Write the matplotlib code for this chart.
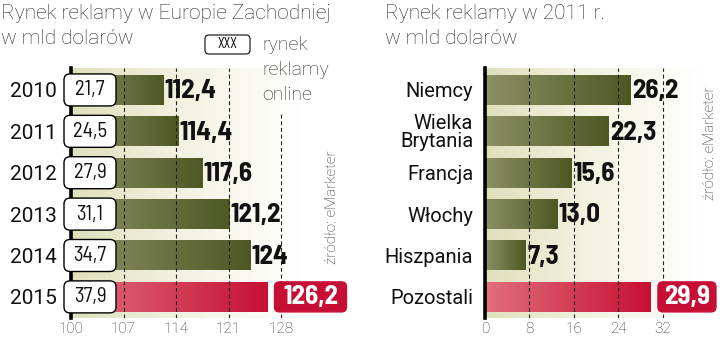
import matplotlib
matplotlib.use("Agg")
import matplotlib.pyplot as plt
import numpy as np
from matplotlib.patches import FancyBboxPatch
from matplotlib.colors import LinearSegmentedColormap

# ---------------- data ----------------
years = ["2010", "2011", "2012", "2013", "2014", "2015"]
total_values = [112.4, 114.4, 117.6, 121.2, 124.0, 126.2]
total_labels = ["112,4", "114,4", "117,6", "121,2", "124", "126,2"]
online_labels = ["21,7", "24,5", "27,9", "31,1", "34,7", "37,9"]
left_ticks = [100, 107, 114, 121, 128]

countries = ["Niemcy", "Wielka\nBrytania", "Francja", "Włochy", "Hiszpania", "Pozostali"]
country_values = [26.2, 22.3, 15.6, 13.0, 7.3, 29.9]
country_labels = ["26,2", "22,3", "15,6", "13,0", "7,3", "29,9"]
right_ticks = [0, 8, 16, 24, 32]

title_left = ["Rynek reklamy w Europie Zachodniej", "w mld dolarów"]
title_right = ["Rynek reklamy w 2011 r.", "w mld dolarów"]
legend_lines = ["rynek", "reklamy", "online"]
source = "źródło: eMarketer"

COND = ["Barlow Condensed", "DejaVu Sans"]
SEMI = ["Barlow Semi Condensed", "DejaVu Sans"]
REG = ["Roboto", "DejaVu Sans"]
plt.rcParams['font.family'] = REG

W, H = 720, 342
fig = plt.figure(figsize=(7.2, 3.42), dpi=100)

olive = LinearSegmentedColormap.from_list("olive", ["#8c9166", "#4e5823"])
red = LinearSegmentedColormap.from_list("red", ["#e0707a", "#c70f35"])
bgmap = LinearSegmentedColormap.from_list("bg", ["#dfe0bb", "#f3f3e3", "#ffffff"])

def px_axes(x0, x1, y_top, y_bot):
    return fig.add_axes([x0 / W, (H - y_bot) / H, (x1 - x0) / W, (y_bot - y_top) / H])

def setup(ax, xmin, xmax, ticks, cats, pad, catsize):
    n = len(cats)
    ax.set_xlim(xmin, xmax)
    ax.set_ylim(n - 0.49, -0.53)
    grad = np.linspace(0, 1, 256).reshape(1, -1)
    ax.imshow(grad, cmap=bgmap, extent=(xmin, xmax, n - 0.49, -0.53), aspect='auto', zorder=0)
    ax.set_xticks(ticks)
    ax.set_xticklabels([str(t) for t in ticks], fontsize=11, color="#333333",
                       family=REG, fontweight='light')
    ax.set_yticks(range(n))
    ax.set_yticklabels(cats, fontsize=catsize, color="#111111", linespacing=0.92,
                       family=REG)
    ax.tick_params(axis='both', length=0)
    ax.tick_params(axis='x', pad=3)
    ax.tick_params(axis='y', pad=pad)
    for s in ["top", "right", "bottom"]:
        ax.spines[s].set_visible(False)
    ax.spines["left"].set_linewidth(2.6)
    ax.spines["left"].set_color("black")
    ax.spines["left"].set_zorder(6)

def grad_bars(ax, bars, last_red=True):
    g = np.linspace(0, 1, 256).reshape(1, -1)
    for i, b in enumerate(bars):
        x0 = b.get_x(); x1 = x0 + b.get_width()
        y0 = b.get_y(); y1 = y0 + b.get_height()
        cm = red if (last_red and i == len(bars) - 1) else olive
        ax.imshow(g, cmap=cm, extent=(x0, x1, y1, y0), aspect='auto', zorder=3)
        b.set_visible(False)

def rounded_box(x0, y0, x1, y1, fc, ec, lw=1.0, z=10, r=6):
    p = FancyBboxPatch((x0, y0), x1 - x0, y1 - y0,
                       boxstyle=f"round,pad=0,rounding_size={r}",
                       fc=fc, ec=ec, lw=lw, transform=None, zorder=z)
    fig.patches.append(p)
    return p

VALSIZE = 19.5
VALFONT = SEMI

# ---------------- left panel ----------------
axL = px_axes(71, 300, 68, 318)
setup(axL, 100, 100 + 229 / 7.5, left_ticks, years, 10, 15)
for t in left_ticks[1:]:
    ymax = 1.0 if t != 128 else 0.82
    axL.axvline(t, color="#222222", lw=0.8, ls=(0, (3.5, 2.5)), zorder=4, ymax=ymax)
barsL = axL.barh(range(len(years)), [v - 100 for v in total_values], left=100,
                 height=0.72, color="#6b7240", zorder=3)
grad_bars(axL, barsL)
for i, (v, lab) in enumerate(zip(total_values, total_labels)):
    if i < len(years) - 1:
        axL.text(v + 0.1, i + 0.03, lab, fontsize=VALSIZE, fontweight='bold', color="#111111",
                 va='center', ha='left', zorder=7, family=VALFONT)

# ---------------- right panel ----------------
axR = px_axes(485, 700, 68, 318)
setup(axR, 0, 215 / 5.55, right_ticks, countries, 8.5, 14.5)
for t in right_ticks[1:]:
    axR.axvline(t, color="#222222", lw=0.8, ls=(0, (3.5, 2.5)), zorder=4)
barsR = axR.barh(range(len(countries)), country_values, height=0.72,
                 color="#6b7240", zorder=3)
grad_bars(axR, barsR)
for i, (v, lab) in enumerate(zip(country_values, country_labels)):
    if i < len(countries) - 1:
        axR.text(v + 0.3, i + 0.03, lab, fontsize=VALSIZE, fontweight='bold', color="#111111",
                 va='center', ha='left', zorder=7, family=VALFONT)

fig.canvas.draw()

# online value boxes over the left axis
for i, lab in enumerate(online_labels):
    xa, yc = axL.transData.transform((100, i))
    x0, x1 = xa - 7, xa + 45
    rounded_box(x0, yc - 16, x1, yc + 16, "white", "black", lw=1.0, z=10)
    fig.text((x0 + x1) / 2 / W, yc / H, lab, fontsize=15, color="#111111",
             ha='center', va='center', zorder=11, family=SEMI)

# red value boxes for the last bars
for ax, v, lab, w in [(axL, total_values[-1], total_labels[-1], 72),
                      (axR, country_values[-1], country_labels[-1], 58)]:
    n = len(ax.get_yticks()) - 1
    xe, yc = ax.transData.transform((v, n))
    x0 = xe + 7
    rounded_box(x0, yc - 15, x0 + w, yc + 15, "#c70f35", "#c70f35", z=10, r=5)
    fig.text((x0 + w / 2) / W, yc / H, lab, fontsize=VALSIZE, fontweight='bold',
             color="white", ha='center', va='center', zorder=11, family=VALFONT)

# titles (one text per line)
for xpos, lines in [(1, title_left), (385, title_right)]:
    for k, line in enumerate(lines):
        fig.text(xpos / W, 1 - (19 + 25 * k) / H, line, fontsize=15, color="#2a2a2a",
                 ha='left', va='baseline', family=REG, fontweight='light')

# legend
rounded_box(205, H - 54, 250, H - 35, "white", "#222222", lw=0.9, z=10, r=4)
fig.text(227.5 / W, (H - 44.5) / H, "XXX", fontsize=11, ha='center', va='center', zorder=11,
         color="#111111", family=COND)
for k, line in enumerate(legend_lines):
    fig.text(262 / W, 1 - (50 + 25 * k) / H, line, fontsize=14, color="#2a2a2a",
             ha='left', va='baseline', family=REG, fontweight='light')

# source notes
fig.text(332 / W, (H - 207) / H, source, rotation=90, fontsize=11, color="#333333",
         ha='center', va='center', family=REG, fontweight='light')
fig.text(710 / W, (H - 143) / H, source, rotation=90, fontsize=11, color="#333333",
         ha='center', va='center', family=REG, fontweight='light')

fig.savefig("out.png", dpi=100)
